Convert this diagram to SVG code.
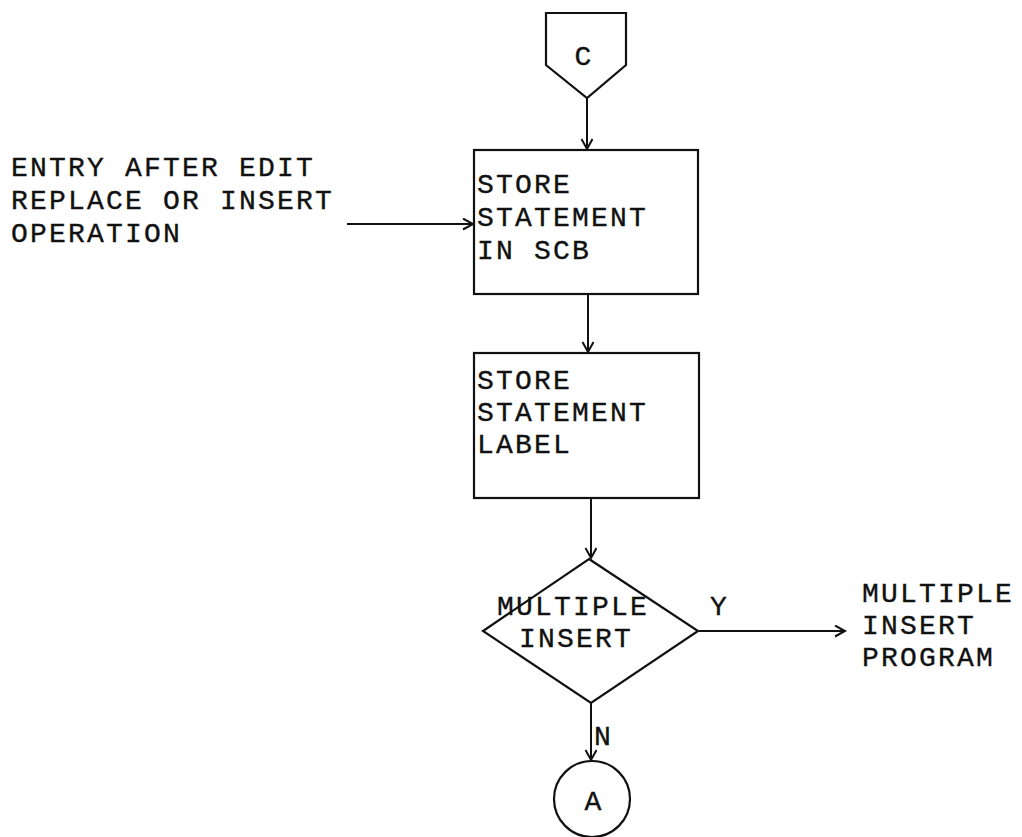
<svg xmlns="http://www.w3.org/2000/svg" width="1022" height="837" viewBox="0 0 1022 837">
<style>
.t{font-family:"Liberation Mono","Courier New",monospace;font-size:28px;letter-spacing:2.2px;fill:#111;stroke:#111;stroke-width:0.35}
.c{font-family:"Liberation Mono","Courier New",monospace;font-size:28px;fill:#111;stroke:#111;stroke-width:0.35;text-anchor:middle}
.s{fill:#fff;stroke:#111;stroke-width:2.2}
.l{fill:none;stroke:#111;stroke-width:2}
</style>
<defs>
<marker id="ah" markerUnits="userSpaceOnUse" markerWidth="14" markerHeight="14" refX="11" refY="6" orient="auto">
<path d="M1,0.5 L11,6 L1,11.5" fill="none" stroke="#111" stroke-width="2"/>
</marker>
</defs>
<rect width="1022" height="837" fill="#fff"/>
<g id="connectors">
<line class="l" x1="587" y1="98" x2="587" y2="149" marker-end="url(#ah)"/>
<line class="l" x1="347" y1="224" x2="473" y2="224" marker-end="url(#ah)"/>
<line class="l" x1="588" y1="295" x2="588" y2="352" marker-end="url(#ah)"/>
<line class="l" x1="591" y1="499" x2="591" y2="558" marker-end="url(#ah)"/>
<line class="l" x1="699" y1="631" x2="845" y2="631" marker-end="url(#ah)"/>
<line class="l" x1="591" y1="703" x2="591" y2="760" marker-end="url(#ah)"/>
<text class="t" x="710" y="615">Y</text>
<text class="t" x="594" y="745">N</text>
</g>
<g id="connector-C">
<path class="s" d="M546,13 L626,13 L626,65 L587,98 L546,65 Z"/>
<text class="c" x="583" y="65">C</text>
</g>
<g id="entry-label">
<text class="t" x="11" y="176">ENTRY AFTER EDIT</text>
<text class="t" x="11" y="209">REPLACE OR INSERT</text>
<text class="t" x="11" y="242">OPERATION</text>
</g>
<g id="store-scb">
<rect class="s" x="474" y="150" width="224" height="144"/>
<text class="t" x="477" y="193">STORE</text>
<text class="t" x="477" y="226">STATEMENT</text>
<text class="t" x="477" y="259">IN SCB</text>
</g>
<g id="store-label">
<rect class="s" x="474" y="353" width="225" height="145"/>
<text class="t" x="477" y="389">STORE</text>
<text class="t" x="477" y="421">STATEMENT</text>
<text class="t" x="477" y="453">LABEL</text>
</g>
<g id="decision">
<path class="s" d="M589,559 L698,631 L591,703 L483,631 Z"/>
<text class="t" x="497" y="615">MULTIPLE</text>
<text class="t" x="519" y="647">INSERT</text>
</g>
<g id="multi-insert-label">
<text class="t" x="862" y="602">MULTIPLE</text>
<text class="t" x="862" y="634">INSERT</text>
<text class="t" x="862" y="666">PROGRAM</text>
</g>
<g id="connector-A">
<circle class="s" cx="592" cy="799" r="38"/>
<text class="c" x="593" y="810">A</text>
</g>
</svg>
